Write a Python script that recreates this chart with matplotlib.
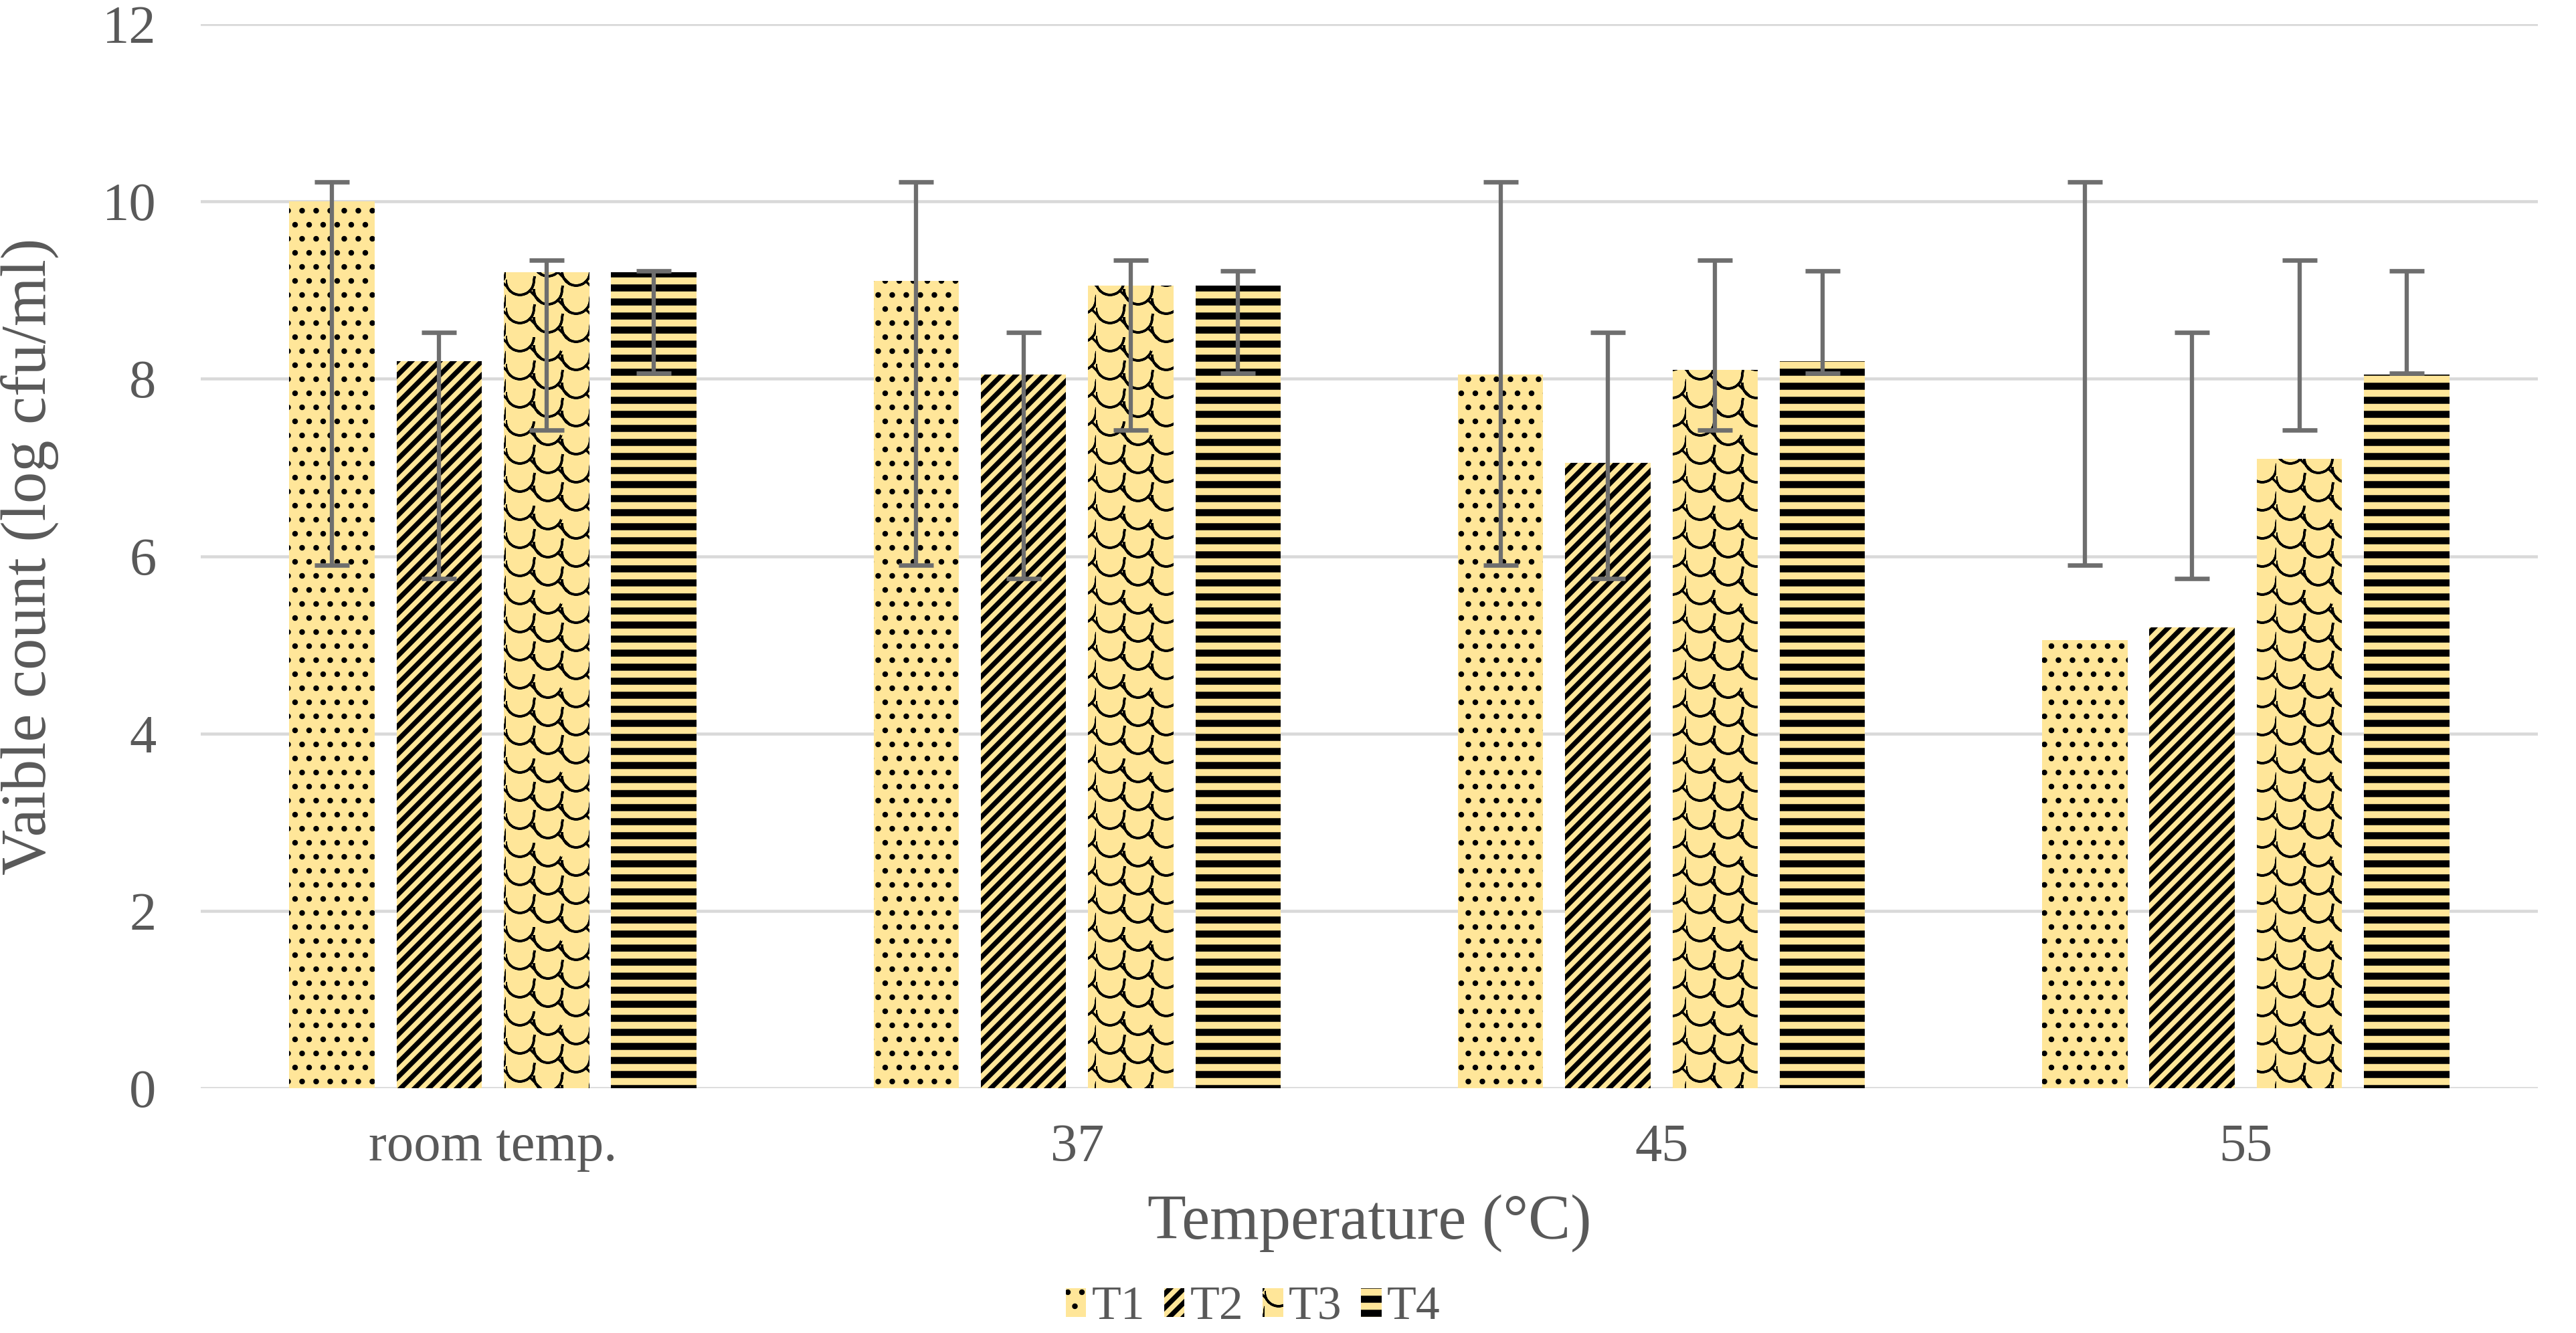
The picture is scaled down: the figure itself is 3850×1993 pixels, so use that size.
import warnings
import numpy as np
import matplotlib
matplotlib.use("Agg")
import matplotlib.pyplot as plt
import matplotlib.hatch as mhatch
from matplotlib.path import Path

warnings.filterwarnings("ignore")

DPI = 126
W, H = 3850, 1993

categories = ["room temp.", "37", "45", "55"]
series = ["T1", "T2", "T3", "T4"]
values = {
    "T1": [10.0, 9.1, 8.05, 5.05],
    "T2": [8.2, 8.05, 7.05, 5.2],
    "T3": [9.2, 9.05, 8.1, 7.1],
    "T4": [9.2, 9.05, 8.2, 8.05],
}
# error bars given as absolute low/high per series (same across categories)
err_low = {"T1": 5.9, "T2": 5.75, "T3": 7.42, "T4": 8.06}
err_high = {"T1": 10.22, "T2": 8.52, "T3": 9.34, "T4": 9.22}
hatches = {"T1": ".", "T2": "//", "T3": "S", "T4": "-"}
hatch_lw = {"T1": 2.4, "T2": 4.2, "T3": 2.0, "T4": 6.0}

yticks = [0, 2, 4, 6, 8, 10, 12]


class ShingleHatch(mhatch.HatchPatternBase):
    """Scale / shingle pattern: bowls with a short diagonal tail, columns stepped.
    Curves are traced forward and back so the filled area is zero (stroke only)."""
    seg = 12

    def __init__(self, hatch, density):
        self.n = hatch.count("S") * 3
        self.m = self.seg + 1
        self.per = (2 * self.m - 1) + 2
        self.rows = self.n + 2
        self.num_vertices = self.n * self.rows * self.per if self.n else 0

    def set_vertices_and_codes(self, vertices, codes):
        c = 1.0 / self.n
        r = c / 2
        t = np.linspace(np.pi, 2 * np.pi, self.m)
        tt = np.concatenate([t, t[-2::-1]])
        L = len(tt)
        k = 0
        for i in range(self.n):
            shift = i * c / self.n
            for j in range(-1, self.n + 1):
                cx = i * c + r
                cy = (j + 1) * c - shift
                vertices[k:k + L, 0] = cx + r * np.cos(tt)
                vertices[k:k + L, 1] = cy + r * np.sin(tt)
                codes[k] = Path.MOVETO
                codes[k + 1:k + L] = Path.LINETO
                k += L
                a = 1.75 * np.pi
                sx, sy = cx + r * np.cos(a), cy + r * np.sin(a)
                vertices[k] = (sx, sy)
                vertices[k + 1] = (sx + 0.42 * c, sy - 0.42 * c)
                codes[k] = Path.MOVETO
                codes[k + 1] = Path.LINETO
                k += 2


if ShingleHatch not in mhatch._hatch_types:
    mhatch._hatch_types.append(ShingleHatch)

plt.rcParams["font.family"] = ["Liberation Serif", "DejaVu Serif"]
plt.rcParams["hatch.color"] = "black"

fig = plt.figure(figsize=(W / DPI, H / DPI), dpi=DPI)
ax = fig.add_axes([300 / W, 1 - 1627 / H, (3793 - 300) / W, (1627 - 36) / H])

fill = "#FFE699"
text_c = "#595959"
grid_c = "#D9D9D9"
err_c = "#6E6E6E"

x = np.arange(len(categories))
bw = 0.146
pitch = 0.1836
for i, s in enumerate(series):
    xs = x + (i - 1.5) * pitch
    bars = ax.bar(xs, values[s], width=bw, color=fill, edgecolor="black",
                  linewidth=0, hatch=hatches[s], label=s, zorder=2)
    for b in bars:
        if hasattr(b, "set_hatch_linewidth"):
            b.set_hatch_linewidth(hatch_lw[s])
    lo = np.full(len(categories), err_low[s])
    hi = np.full(len(categories), err_high[s])
    ax.errorbar(xs, (lo + hi) / 2, yerr=(hi - lo) / 2, fmt="none",
                ecolor=err_c, elinewidth=3.6, capsize=15, capthick=3.8, zorder=3)

ax.set_xlim(-0.5, len(categories) - 0.5)
ax.set_ylim(0, 12)
ax.set_yticks(yticks)
ax.set_xticks(x)
ax.set_xticklabels(categories)
ax.yaxis.grid(True, color=grid_c, linewidth=2.6, zorder=0)
ax.set_axisbelow(True)
for sp in ax.spines.values():
    sp.set_visible(False)
ax.tick_params(axis="both", length=0, labelsize=46, labelcolor=text_c)
ax.tick_params(axis="y", pad=38)
ax.tick_params(axis="x", pad=30)

ax.set_xlabel("Temperature (°C)", fontsize=54, color=text_c)
ax.set_ylabel("Vaible count (log cfu/ml)", fontsize=54, color=text_c)
ax.xaxis.set_label_coords(0.5, (1627 - 1829) / 1591)
ax.yaxis.set_label_coords((44 - 300) / 3493, 0.5)
ax.xaxis.label.set_va("center")
ax.yaxis.label.set_va("center")

leg = fig.legend(loc="center", bbox_to_anchor=(0.4865, 1 - 1955 / H), ncol=4,
                 frameon=False, fontsize=41, handlelength=0.42, handleheight=0.55,
                 handletextpad=0.12, columnspacing=0.4, labelcolor=text_c)
for idx, h in enumerate(leg.legend_handles):
    if hasattr(h, "set_hatch_linewidth"):
        h.set_hatch_linewidth(hatch_lw[series[idx]])

fig.savefig("out.png", dpi=DPI)
